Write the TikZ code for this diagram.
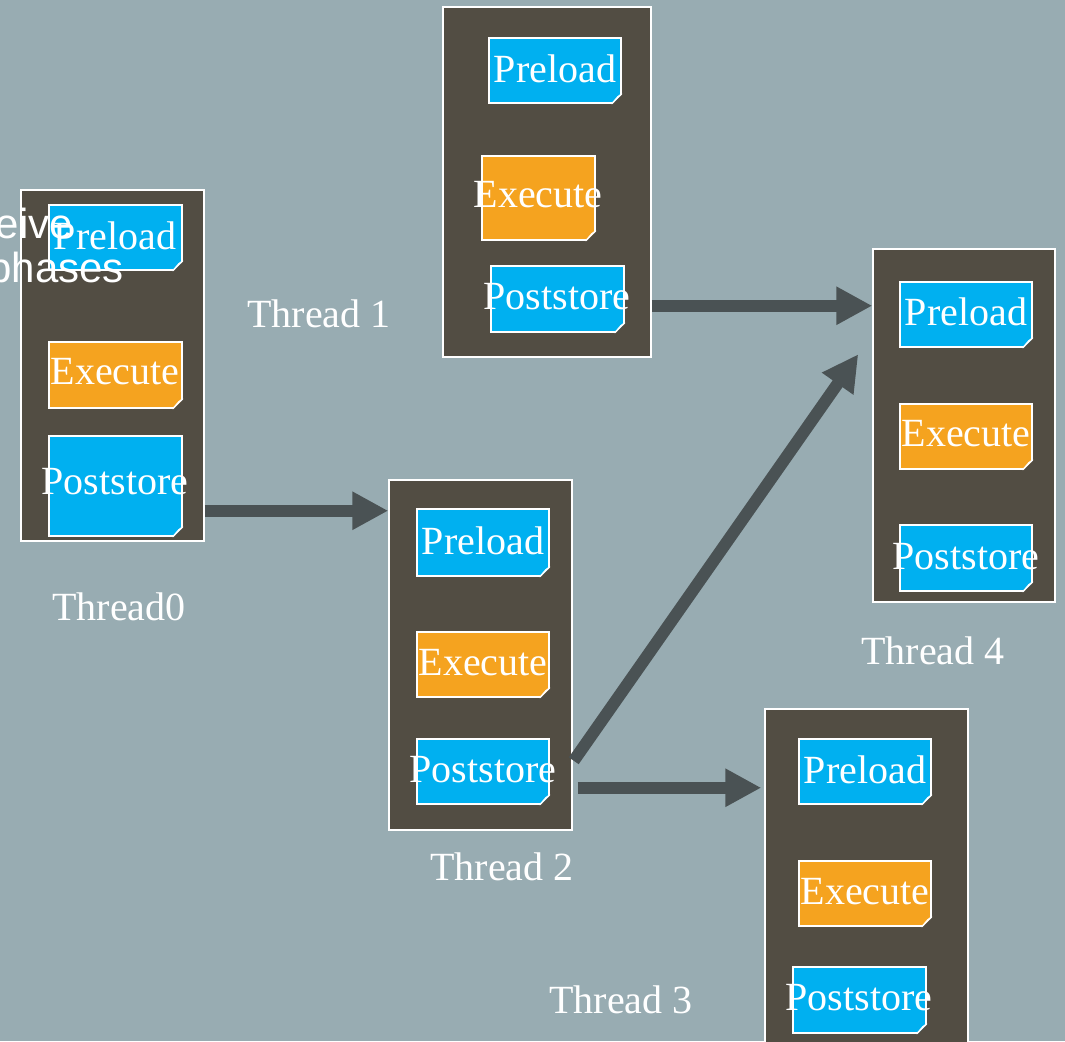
\documentclass[tikz,border=0pt]{standalone}
\usepackage{fontspec}
\setmainfont{Liberation Serif}
\newfontfamily\labelsans{Liberation Sans}
\usetikzlibrary{arrows.meta,calc}

\definecolor{canvas}{HTML}{98ACB2}
\definecolor{threadbg}{HTML}{524D43}
\definecolor{phaseblue}{HTML}{00B0F0}
\definecolor{phaseorange}{HTML}{F5A31F}
\definecolor{flowgray}{HTML}{4A5254}

\tikzset{
  threadbox/.style={draw=white, line width=1.5pt, fill=threadbg, rectangle, inner sep=0pt},
  notebox/.style={draw=white, line width=1.5pt, rectangle, inner sep=0pt},
  notetext/.style={text=white, inner sep=0pt, font=\fontsize{40}{44}\selectfont},
  threadlabel/.style={text=white, inner sep=0pt, font=\fontsize{40}{44}\selectfont},
  flow/.style={draw=flowgray, line width=12pt, -{Triangle[length=36pt,width=36pt]}},
}

% sticky note: name, x1, y1, x2, y2, fill colour, text, text centre x, text centre y
\newcommand\stickynote[9]{%
  \node[notebox, fill=#6, minimum width={#4-#2}, minimum height={#5-#3}]
    (#1) at ({(#2+#4)/2},{(#3+#5)/2}) {};
  \fill[threadbg] ($(#1.south east)+(-10,1)$) -- ($(#1.south east)+(1,1)$) -- ($(#1.south east)+(1,-10)$) -- cycle;
  \draw[white, line width=1.2pt, fill=#6!45!white, line join=round]
    ($(#1.south east)+(-10,0)$) -- ($(#1.south east)+(0,-10)$) -- ($(#1.south east)+(-4,-7)$) -- cycle;
  \node[notetext] (#1-t) at (#8,#9) {#7};
}

\begin{document}
\begin{tikzpicture}[x=1pt, y=-1pt]
  \useasboundingbox (0,0) rectangle (1065,1041);
  \fill[canvas] (0,0) rectangle (1065,1041);

  % thread containers
  \node[threadbox, minimum width=183pt, minimum height=351pt] (t0) at (112.5,365.5) {};
  \node[threadbox, minimum width=208pt, minimum height=350pt] (t1) at (547,182) {};
  \node[threadbox, minimum width=183pt, minimum height=350pt] (t2) at (480.5,655) {};
  \node[threadbox, minimum width=203pt, minimum height=351pt] (t3) at (866.5,884.5) {};
  \node[threadbox, minimum width=182pt, minimum height=353pt] (t4) at (964,425.5) {};

  % Thread0 phases
  \stickynote{t0p}{49}{205}{182}{270}{phaseblue}{Preload}{115}{236}
  \stickynote{t0e}{49}{342}{182}{408}{phaseorange}{Execute}{115}{372}
  \stickynote{t0s}{49}{436}{182}{536}{phaseblue}{Poststore}{115}{482}

  % Thread 1 phases
  \stickynote{t1p}{489}{38}{621}{103}{phaseblue}{Preload}{555}{69}
  \stickynote{t1e}{482}{156}{595}{240}{phaseorange}{Execute}{538}{195}
  \stickynote{t1s}{491}{266}{624}{332}{phaseblue}{Poststore}{557}{297}

  % Thread 2 phases
  \stickynote{t2p}{417}{509}{549}{576}{phaseblue}{Preload}{483}{541}
  \stickynote{t2e}{417}{632}{549}{697}{phaseorange}{Execute}{483}{663}
  \stickynote{t2s}{417}{739}{549}{804}{phaseblue}{Poststore}{483}{770}

  % Thread 3 phases
  \stickynote{t3p}{799}{739}{931}{804}{phaseblue}{Preload}{865}{770}
  \stickynote{t3e}{799}{861}{931}{926}{phaseorange}{Execute}{865}{892}
  \stickynote{t3s}{793}{967}{926}{1033}{phaseblue}{Poststore}{859}{998}

  % Thread 4 phases
  \stickynote{t4p}{900}{282}{1032}{347}{phaseblue}{Preload}{966}{312}
  \stickynote{t4e}{900}{404}{1032}{469}{phaseorange}{Execute}{966}{434}
  \stickynote{t4s}{900}{525}{1032}{591}{phaseblue}{Poststore}{966}{557}

  % hand-off start points on the sending threads
  \coordinate (f0) at ($(t0.south east)+(0,-31)$);
  \coordinate (f1) at ($(t1.south east)+(0,-52)$);
  \coordinate (f2) at ($(t2.south east)+(1,-70)$);
  \coordinate (f3) at ($(t2.south east)+(5,-43)$);

  % hand-offs between threads
  \draw[flow] (f0) -- (f0 -| t2.west);
  \draw[flow] (f1) -- (f1 -| t4.west);
  \draw[flow] (f2) -- ($(t4.north west)+(-14,106)$);
  \draw[flow] (f3) -- ($(f3 -| t3.west)+(-3,0)$);

  % thread captions
  \node[threadlabel] (l0) at (119,607) {Thread0};
  \node[threadlabel] (l1) at (319,314) {Thread 1};
  \node[threadlabel] (l2) at (502,867) {Thread 2};
  \node[threadlabel] (l3) at (621,1000) {Thread 3};
  \node[threadlabel] (l4) at (933,651) {Thread 4};

  % overlapping caption text
  \node[text=white, inner sep=0pt, anchor=base east, font=\labelsans\fontsize{42}{44}\selectfont] (c1) at (73,238) {eive};
  \node[text=white, inner sep=0pt, anchor=base east, font=\labelsans\fontsize{42}{44}\selectfont] (c2) at (124,282) {phases};
\end{tikzpicture}
\end{document}
